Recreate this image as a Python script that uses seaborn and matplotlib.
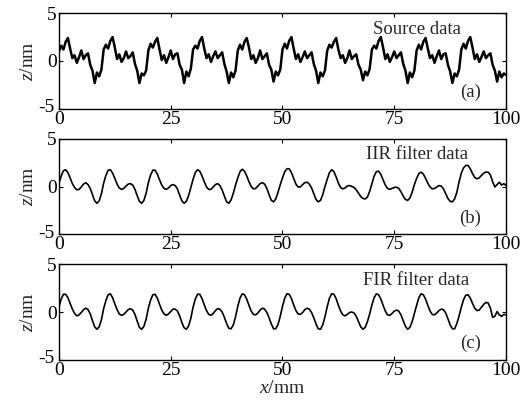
import numpy as np
import matplotlib
matplotlib.use('Agg')
import matplotlib.pyplot as plt
import matplotlib.transforms as mtransforms
import seaborn as sns

x_mm = np.linspace(0, 100, 201)

source_z = [
    1.0, 1.6, 1.2, 2.0, 2.4, 1.3, 0.3, 0.6, -0.2, 0.4, 1.1, 0.2, 0.6, 0.8, -0.4, -1.0, -2.3, -1.2, -1.6, -0.9,
    1.2, 1.7, 1.3, 2.1, 2.5, 1.4, 0.2, 0.7, -0.1, 0.3, 1.0, 0.3, 0.5, 0.9, -0.3, -1.0, -2.3, -1.3, -1.5, -1.0,
    1.1, 1.8, 1.4, 2.0, 2.4, 1.2, 0.1, 0.6, -0.2, 0.4, 1.1, 0.2, 0.7, 0.8, -0.4, -0.9, -2.3, -1.1, -1.6, -0.8,
    1.2, 1.6, 1.3, 2.1, 2.5, 1.3, 0.3, 0.7, -0.1, 0.5, 1.0, 0.3, 0.6, 0.9, -0.3, -1.1, -2.3, -1.2, -1.7, -1.0,
    1.1, 1.7, 1.2, 2.0, 2.4, 1.4, 0.2, 0.6, -0.2, 0.3, 1.1, 0.2, 0.5, 0.8, -0.4, -0.9, -2.15, -1.1, -1.5, -0.9,
    1.2, 1.8, 1.3, 2.1, 2.5, 1.3, 0.2, 0.7, -0.1, 0.4, 1.0, 0.3, 0.6, 0.9, -0.3, -1.0, -2.3, -1.2, -1.6, -1.0,
    1.1, 1.7, 1.4, 2.0, 2.4, 1.2, 0.3, 0.6, -0.2, 0.3, 1.1, 0.2, 0.5, 0.7, -0.4, -0.9, -2.0, -1.1, -1.5, -0.8,
    1.2, 1.6, 1.3, 2.1, 2.5, 1.4, 0.2, 0.7, -0.1, 0.4, 1.0, 0.3, 0.6, 0.9, -0.3, -1.0, -2.3, -1.2, -1.7, -1.0,
    1.1, 1.7, 1.2, 2.0, 2.4, 1.3, 0.3, 0.6, -0.2, 0.5, 1.1, 0.2, 0.7, 0.8, -0.4, -1.1, -2.3, -1.3, -1.6, -0.9,
    1.2, 1.8, 1.3, 2.1, 2.5, 1.4, 0.2, 0.7, -0.1, 0.4, 1.0, 0.3, 0.6, 0.8, -0.4, -1.0, -2.15, -1.1, -1.7, -1.3,
    -1.45,
]

iir_z = [
    0.3, 1.1, 1.65, 1.75, 1.45, 0.9, 0.3, -0.1, -0.35, -0.3, -0.05, 0.25, 0.4, 0.2, -0.2, -0.85, -1.5, -1.75, -1.5, -0.75,
    0.35, 1.15, 1.7, 1.75, 1.4, 0.85, 0.25, -0.15, -0.3, -0.2, 0.05, 0.25, 0.3, 0.15, -0.3, -0.95, -1.55, -1.75, -1.45, -0.7,
    0.4, 1.2, 1.7, 1.7, 1.3, 0.7, 0.15, -0.2, -0.3, -0.15, 0.1, 0.2, 0.1, -0.25, -0.9, -1.5, -1.75, -1.55, -0.95, -0.1,
    0.75, 1.45, 1.75, 1.6, 1.1, 0.5, -0.05, -0.3, -0.3, -0.05, 0.2, 0.3, 0.1, -0.35, -1.0, -1.6, -1.75, -1.4, -0.7, 0.15,
    0.9, 1.55, 1.8, 1.6, 1.1, 0.5, 0.0, -0.25, -0.2, 0.05, 0.3, 0.4, 0.25, -0.2, -0.85, -1.45, -1.6, -1.3, -0.6, 0.2,
    0.9, 1.55, 1.85, 1.85, 1.45, 0.85, 0.25, -0.05, -0.05, 0.2, 0.4, 0.45, 0.25, -0.15, -0.75, -1.35, -1.6, -1.45, -0.85, 0.0,
    0.75, 1.45, 1.75, 1.55, 1.0, 0.35, -0.1, -0.25, -0.15, 0.05, 0.1, 0.0, -0.1, -0.35, -0.7, -1.05, -1.25, -1.3, -1.1, -0.5,
    0.3, 1.1, 1.55, 1.6, 1.25, 0.7, 0.15, -0.2, -0.3, -0.2, -0.1, -0.07, -0.2, -0.55, -1.0, -1.35, -1.45, -1.2, -0.6, 0.2,
    0.85, 1.35, 1.5, 1.3, 0.85, 0.35, -0.05, -0.25, -0.2, -0.05, 0.1, 0.05, -0.25, -0.75, -1.25, -1.55, -1.6, -1.3, -0.6, 0.5,
    1.4, 1.95, 2.2, 2.2, 1.85, 1.35, 0.95, 0.8, 0.9, 1.15, 1.4, 1.5, 1.5, 1.2, 0.5, -0.05, 0.2, 0.45, 0.15, 0.3,
    0.1,
]

fir_z = [
    0.5, 1.35, 1.85, 1.85, 1.5, 0.9, 0.3, -0.15, -0.4, -0.3, -0.05, 0.25, 0.4, 0.25, -0.2, -0.9, -1.55, -1.8, -1.55, -0.8,
    0.35, 1.2, 1.8, 1.9, 1.5, 0.85, 0.25, -0.2, -0.35, -0.25, 0.0, 0.25, 0.35, 0.2, -0.25, -0.95, -1.6, -1.8, -1.5, -0.75,
    0.4, 1.25, 1.8, 1.85, 1.45, 0.8, 0.2, -0.2, -0.35, -0.2, 0.05, 0.3, 0.3, 0.1, -0.4, -1.1, -1.65, -1.8, -1.45, -0.65,
    0.5, 1.35, 1.85, 1.85, 1.4, 0.75, 0.15, -0.25, -0.35, -0.15, 0.15, 0.35, 0.3, 0.0, -0.55, -1.2, -1.7, -1.75, -1.35, -0.5,
    0.6, 1.45, 1.9, 1.8, 1.35, 0.7, 0.1, -0.25, -0.3, -0.1, 0.2, 0.4, 0.3, -0.05, -0.6, -1.25, -1.75, -1.75, -1.3, -0.45,
    0.6, 1.45, 1.9, 1.85, 1.4, 0.75, 0.15, -0.2, -0.25, -0.05, 0.25, 0.4, 0.3, -0.05, -0.6, -1.25, -1.75, -1.8, -1.35, -0.5,
    0.55, 1.45, 1.9, 1.85, 1.4, 0.7, 0.1, -0.3, -0.4, -0.25, -0.05, 0.0, -0.1, -0.45, -1.0, -1.55, -1.8, -1.6, -1.0, -0.2,
    0.75, 1.5, 1.9, 1.8, 1.35, 0.7, 0.1, -0.3, -0.35, -0.15, 0.1, 0.2, 0.1, -0.3, -0.9, -1.5, -1.8, -1.6, -1.0, -0.15,
    0.7, 1.5, 1.9, 1.8, 1.35, 0.7, 0.1, -0.25, -0.3, -0.1, 0.15, 0.3, 0.25, -0.1, -0.7, -1.35, -1.75, -1.75, -1.2, -0.4,
    0.5, 1.3, 1.75, 1.8, 1.45, 0.9, 0.4, 0.15, 0.2, 0.5, 0.8, 1.0, 0.95, 0.4, -0.55, -0.45, 0.05, -0.3, -0.45, -0.25,
    -0.3,
]

painel_titulos = ['Source data', 'IIR filter data', 'FIR filter data']
painel_letras = ['(a)', '(b)', '(c)']
x_ticks = [0, 25, 50, 75, 100]
y_ticks = [-5, 0, 5]

# --- estilo ---
sns.set_style('ticks')
plt.rcParams['font.family'] = ['Liberation Serif', 'DejaVu Serif']
plt.rcParams['mathtext.fontset'] = 'custom'
plt.rcParams['mathtext.it'] = 'Liberation Serif:italic'
plt.rcParams['mathtext.rm'] = 'Liberation Serif'
plt.rcParams['axes.unicode_minus'] = False

fig, eixos = plt.subplots(3, 1, figsize=(5.31, 4.09), dpi=100)
fig.subplots_adjust(left=0.111, right=0.953, top=0.968, bottom=0.12, hspace=0.31)

series = [source_z, iir_z, fir_z]
larguras = [1.8, 1.2, 1.2]

# desloca o rótulo "-5" um pouco para cima/esquerda, como no original
desloc = mtransforms.ScaledTranslation(-2 / 100, 3 / 100, fig.dpi_scale_trans)

for ax, z, titulo, letra, lw in zip(eixos, series, painel_titulos, painel_letras, larguras):
    sns.lineplot(x=x_mm, y=z, ax=ax, color='black', linewidth=lw)
    ax.set_xlim(0, 100)
    ax.set_ylim(-5, 5)
    ax.set_xticks(x_ticks)
    ax.set_yticks(y_ticks)
    ax.tick_params(direction='in', top=True, right=True, length=3, width=0.8,
                   labelsize=14, pad=1.5, colors='black')
    for sp in ax.spines.values():
        sp.set_linewidth(1.0)
        sp.set_color('black')
    lbl = ax.get_yticklabels()[0]
    lbl.set_transform(lbl.get_transform() + desloc)
    ax.set_ylabel('$z$/nm', fontsize=14, labelpad=1)
    ax.set_xlabel('')
    ax.text(80, 3.3, titulo, ha='center', va='center', fontsize=13.5)
    ax.text(92, -3.3, letra, ha='center', va='center', fontsize=13.5)

eixos[-1].set_xlabel('$x$/mm', fontsize=14, labelpad=1)

fig.savefig('out.png', dpi=100)
